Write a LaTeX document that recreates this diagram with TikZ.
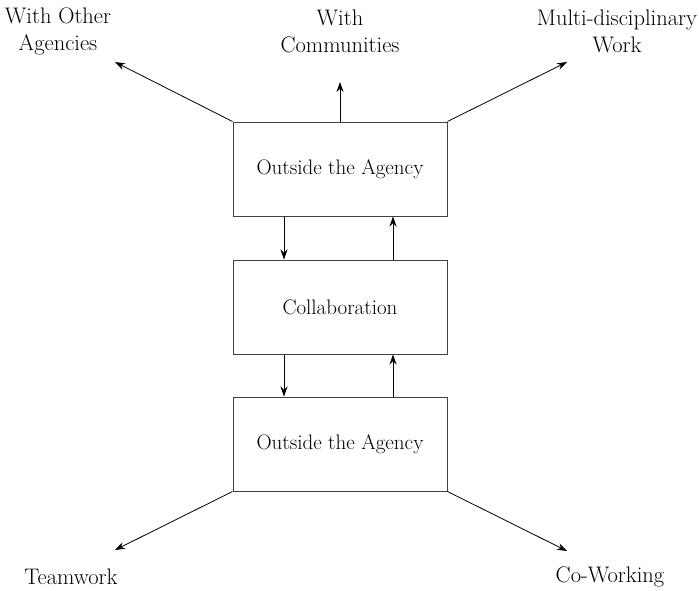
\documentclass[tikz,border=0pt]{standalone}
\usetikzlibrary{arrows.meta}
\begin{document}
\begin{tikzpicture}[x=1pt,y=-1pt,
  box/.style={draw=black!75,line width=1pt,minimum width=214pt,minimum height=94pt,inner sep=0pt,font=\fontsize{21}{24}\selectfont},
  lbl/.style={align=center,font=\fontsize{22.5}{27}\selectfont,inner sep=0pt},
  link/.style={-{Stealth[length=10pt,width=7pt]},line width=0.8pt}]
\useasboundingbox (0,0) rectangle (699,590);
% the three stacked boxes
\node[box] (top) at (340,169) {Outside the Agency};
\node[box] (mid) at (340,307) {Collaboration};
\node[box] (bot) at (340,444) {Outside the Agency};
% arrow end points beside the labels
\coordinate (eoa) at (115,62);
\coordinate (ecom) at (340,82);
\coordinate (emd) at (567,62);
\coordinate (etw) at (115,550);
\coordinate (ecw) at (567,551);
% outer labels
\node[lbl] (oa) at (58,31) {With Other\\Agencies};
\node[lbl] (com) at (340,31) {With\\Communities};
\node[lbl] (md) at (617,31) {Multi-disciplinary\\Work};
\node[lbl] (tw) at (71,577) {Teamwork};
\node[lbl] (cw) at (610,577) {Co-Working};
% connectors
\draw[link] (top.north west) -- (eoa);
\draw[link] (top.north) -- (ecom);
\draw[link] (top.north east) -- (emd);
\draw[link] (bot.south west) -- (etw);
\draw[link] (bot.south east) -- (ecw);
\draw[link] ([xshift=-56pt]top.south) -- ([xshift=-56pt]mid.north);
\draw[link] ([xshift=53pt]mid.north) -- ([xshift=53pt]top.south);
\draw[link] ([xshift=-56pt]mid.south) -- ([xshift=-56pt]bot.north);
\draw[link] ([xshift=53pt]bot.north) -- ([xshift=53pt]mid.south);
\end{tikzpicture}
\end{document}
